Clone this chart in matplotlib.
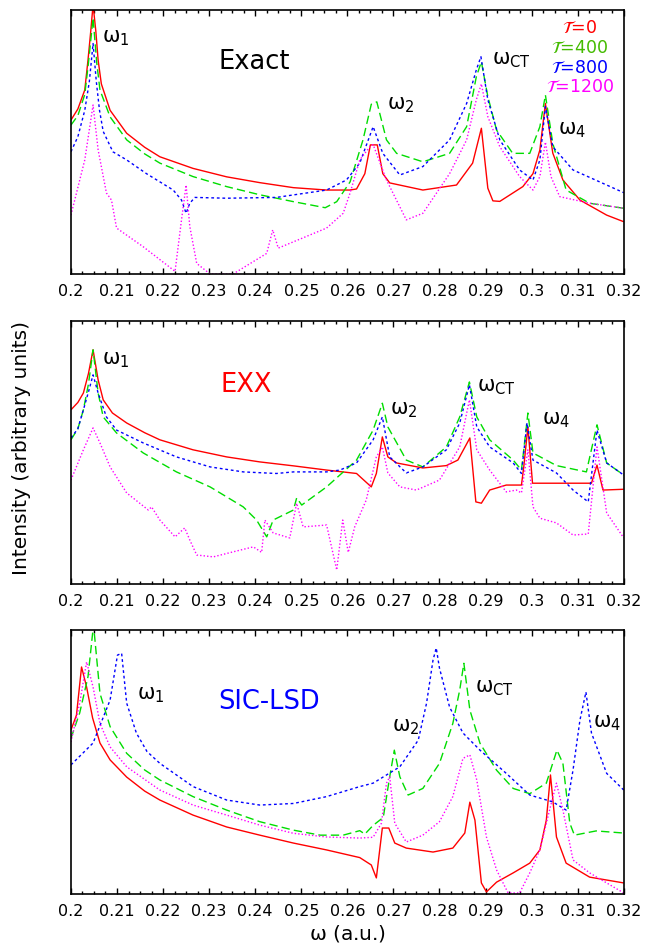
import matplotlib.pyplot as plt
from matplotlib.ticker import MultipleLocator

plt.rcParams['font.family'] = ['DejaVu Sans']
plt.rcParams['mathtext.fontset'] = 'dejavusans'

# ---------------- Exact ----------------
ex_red_x = [0.2, 0.2015, 0.203, 0.2037, 0.2043, 0.2048, 0.2054, 0.2059, 0.2066, 0.2085, 0.2121, 0.2160,
            0.2193, 0.2265, 0.2338, 0.241, 0.2483, 0.2555,
            0.2605, 0.262, 0.2638, 0.2650, 0.2665, 0.2677, 0.2692, 0.2764, 0.2837, 0.2872, 0.2891,
            0.2905, 0.2916, 0.2931, 0.2981, 0.3003, 0.3018, 0.3030, 0.3046, 0.3068, 0.3105, 0.3163, 0.32]
ex_red_y = [0.583, 0.625, 0.697, 0.81, 0.92, 1.02, 0.92, 0.81, 0.72, 0.62, 0.533, 0.48,
            0.444, 0.40, 0.368, 0.346, 0.327, 0.318,
            0.318, 0.322, 0.38, 0.489, 0.489, 0.38, 0.345, 0.318, 0.337, 0.42, 0.552,
            0.325, 0.277, 0.275, 0.331, 0.38, 0.47, 0.646, 0.458, 0.356, 0.28, 0.223, 0.198]

ex_grn_x = [0.2, 0.2015, 0.203, 0.2038, 0.2048, 0.2056, 0.2063, 0.2085, 0.2121, 0.2160, 0.2193, 0.2265,
            0.2338, 0.241, 0.2483, 0.2552,
            0.2577, 0.2606, 0.2634, 0.2652, 0.2664, 0.2685, 0.2707, 0.2764, 0.2822, 0.2859, 0.2880,
            0.2891, 0.2905, 0.2924, 0.2959, 0.2996, 0.3018, 0.3030, 0.3046, 0.3075, 0.3126, 0.32]
ex_grn_y = [0.564, 0.60, 0.68, 0.80, 0.97, 0.80, 0.697, 0.595, 0.508, 0.455, 0.42, 0.369,
            0.331, 0.30, 0.274, 0.251,
            0.274, 0.349, 0.508, 0.643, 0.652, 0.508, 0.457, 0.425, 0.457, 0.558, 0.747,
            0.804, 0.672, 0.545, 0.457, 0.457, 0.558, 0.678, 0.495, 0.318, 0.268, 0.249]

ex_blu_x = [0.2, 0.2015, 0.203, 0.2040, 0.2048, 0.2055, 0.2062, 0.2070, 0.2091, 0.2121, 0.2164, 0.2222,
            0.2240, 0.2250, 0.2258,
            0.2269, 0.2338, 0.2446, 0.2555, 0.2598, 0.2627, 0.2656, 0.2677, 0.2714, 0.2764, 0.2822,
            0.2859, 0.2880, 0.2890, 0.2905, 0.2931, 0.2974, 0.3003, 0.3018, 0.3030, 0.3046, 0.3090,
            0.3163, 0.32]
ex_blu_y = [0.463, 0.52, 0.62, 0.73, 0.873, 0.73, 0.62, 0.54, 0.463, 0.432, 0.38, 0.318,
            0.28, 0.23, 0.268,
            0.29, 0.287, 0.29, 0.318, 0.356, 0.42, 0.558, 0.457, 0.375, 0.407, 0.508,
            0.646, 0.773, 0.823, 0.66, 0.508, 0.394, 0.356, 0.432, 0.634, 0.482, 0.394,
            0.337, 0.308]

ex_mag_x = [0.2, 0.203, 0.2048, 0.2059, 0.2077, 0.2088, 0.2099, 0.2157, 0.2226, 0.2240, 0.2250, 0.2258,
            0.2273, 0.2302, 0.2352, 0.2425, 0.2438, 0.2450, 0.2555, 0.2591, 0.2606, 0.2627, 0.2649,
            0.2656, 0.2685, 0.2728, 0.2764, 0.2822, 0.2859, 0.2880, 0.2891, 0.2905, 0.2931, 0.2974,
            0.3003, 0.3018, 0.3030, 0.3042, 0.3061, 0.3126, 0.32]
ex_mag_y = [0.223, 0.432, 0.64, 0.47, 0.307, 0.28, 0.174, 0.103, 0.01, 0.205, 0.337, 0.18,
            0.04, 0.0, 0.0, 0.078, 0.167, 0.098, 0.174, 0.23, 0.307, 0.432, 0.482,
            0.49, 0.356, 0.205, 0.23, 0.38, 0.508, 0.66, 0.72, 0.596, 0.482, 0.369,
            0.318, 0.369, 0.50, 0.369, 0.293, 0.268, 0.249]

# ---------------- EXX ----------------
xx_red_x = [0.2, 0.2015, 0.2027, 0.2038, 0.2048, 0.2059, 0.2070, 0.2090, 0.2121, 0.2160, 0.2193, 0.2265,
            0.2338, 0.241, 0.2483, 0.2555,
            0.262, 0.2652, 0.2663, 0.2676, 0.2688, 0.2707, 0.2764, 0.2815, 0.2840, 0.2866, 0.2879,
            0.2891, 0.2909, 0.2945, 0.2978, 0.2983, 0.2992, 0.3002, 0.3054, 0.3130, 0.3142, 0.3155, 0.32]
xx_red_y = [0.662, 0.69, 0.726, 0.80, 0.89, 0.776, 0.70, 0.65, 0.612, 0.575, 0.548, 0.51,
            0.483, 0.464, 0.449, 0.433,
            0.42, 0.369, 0.42, 0.559, 0.483, 0.46, 0.441, 0.45, 0.471, 0.555, 0.312,
            0.307, 0.357, 0.376, 0.376, 0.445, 0.597, 0.383, 0.383, 0.383, 0.452, 0.357, 0.36]

xx_grn_x = [0.2, 0.2015, 0.2027, 0.2038, 0.2048, 0.2059, 0.2070, 0.2099, 0.2157, 0.2229, 0.2302, 0.2374,
            0.2403, 0.2425,
            0.2439, 0.2483, 0.2490, 0.2501, 0.2555, 0.262, 0.2656, 0.2676, 0.2688, 0.2728, 0.2764,
            0.2815, 0.2844, 0.2865, 0.2881, 0.2909, 0.2960, 0.2978, 0.2992, 0.3003, 0.3054, 0.3119,
            0.3142, 0.3163, 0.32]
xx_grn_y = [0.548, 0.59, 0.662, 0.76, 0.89, 0.726, 0.635, 0.574, 0.498, 0.426, 0.369, 0.293,
            0.243, 0.179,
            0.243, 0.281, 0.327, 0.30, 0.369, 0.471, 0.585, 0.687, 0.597, 0.471, 0.445,
            0.521, 0.635, 0.768, 0.635, 0.548, 0.471, 0.433, 0.65, 0.498, 0.45, 0.426,
            0.605, 0.46, 0.414]

xx_blu_x = [0.2, 0.2015, 0.2027, 0.2038, 0.2048, 0.2059, 0.2077, 0.2099, 0.2157, 0.2229, 0.2302, 0.2374,
            0.2446, 0.2483,
            0.2555, 0.2584, 0.262, 0.2656, 0.2676, 0.2692, 0.2728, 0.2764, 0.2815, 0.2844, 0.2865,
            0.2881, 0.2909, 0.2960, 0.2978, 0.2990, 0.3003, 0.3054, 0.3090, 0.3123, 0.3142, 0.3163, 0.32]
xx_blu_y = [0.555, 0.59, 0.662, 0.73, 0.795, 0.726, 0.635, 0.585, 0.536, 0.483, 0.445, 0.426,
            0.42, 0.426,
            0.426, 0.433, 0.46, 0.548, 0.635, 0.483, 0.422, 0.445, 0.51, 0.612, 0.757,
            0.597, 0.521, 0.46, 0.42, 0.612, 0.471, 0.422, 0.357, 0.312, 0.585, 0.46, 0.414]

xx_mag_x = [0.2, 0.2027, 0.2048, 0.2063, 0.2085, 0.2121, 0.2168, 0.2175, 0.2193, 0.2226, 0.2247, 0.2258,
            0.2273, 0.2309, 0.2352, 0.2396, 0.2414, 0.2421, 0.2439, 0.2475, 0.2490, 0.2504, 0.2555,
            0.2577, 0.2590, 0.2602, 0.2616, 0.2641, 0.2663, 0.2676, 0.2688, 0.2714, 0.2750, 0.2800,
            0.2844, 0.2865, 0.2881, 0.2909, 0.2945, 0.2967, 0.2978, 0.2992, 0.3003, 0.3018, 0.3054,
            0.3090, 0.3123, 0.3142, 0.3163, 0.32]
xx_mag_y = [0.395, 0.51, 0.593, 0.536, 0.445, 0.346, 0.281, 0.293, 0.243, 0.179, 0.213, 0.167,
            0.11, 0.103, 0.122, 0.141, 0.12, 0.243, 0.194, 0.175, 0.307, 0.217, 0.224,
            0.053, 0.243, 0.12, 0.217, 0.319, 0.483, 0.521, 0.422, 0.369, 0.357, 0.395,
            0.521, 0.70, 0.51, 0.433, 0.35, 0.357, 0.346, 0.51, 0.293, 0.25, 0.232,
            0.186, 0.19, 0.521, 0.27, 0.175]

# ---------------- SIC-LSD ----------------
sl_red_x = [0.2, 0.2012, 0.2023, 0.2034, 0.2047, 0.2063, 0.2085, 0.2121, 0.2160, 0.2193, 0.2265, 0.2338,
            0.241, 0.2483, 0.2555, 0.2627, 0.2652, 0.2663, 0.2676, 0.2690, 0.2703, 0.2728, 0.2786, 0.2829,
            0.2855, 0.2866, 0.2877, 0.2891, 0.2902, 0.2924, 0.2960, 0.2996, 0.3018, 0.3032, 0.3041,
            0.3054, 0.3075, 0.3126, 0.32]
sl_red_y = [0.621, 0.678, 0.86, 0.784, 0.667, 0.572, 0.508, 0.443, 0.39, 0.356, 0.299, 0.254,
            0.223, 0.193, 0.167, 0.138, 0.11, 0.061, 0.25, 0.25, 0.193, 0.174, 0.159, 0.174,
            0.231, 0.348, 0.28, 0.042, 0.008, 0.045, 0.08, 0.117, 0.167, 0.28, 0.451,
            0.216, 0.117, 0.064, 0.042]

sl_grn_x = [0.2, 0.2019, 0.2037, 0.2049, 0.2063, 0.2085, 0.2121, 0.2160, 0.2193, 0.2265, 0.2338, 0.241,
            0.2483, 0.2541, 0.2591, 0.2627, 0.2638, 0.2656, 0.2678, 0.2692, 0.2702, 0.2714, 0.2732,
            0.2764, 0.2800, 0.2829, 0.2844, 0.2853, 0.2866, 0.2888, 0.2924, 0.2960, 0.2996, 0.3032,
            0.3055, 0.3068, 0.3083, 0.3093, 0.3140, 0.32]
sl_grn_y = [0.59, 0.686, 0.823, 1.02, 0.76, 0.634, 0.533, 0.47, 0.432, 0.369, 0.318, 0.274,
            0.242, 0.223, 0.223, 0.24, 0.227, 0.26, 0.29, 0.444, 0.545, 0.444, 0.375,
            0.40, 0.495, 0.646, 0.773, 0.874, 0.697, 0.571, 0.469, 0.40, 0.38, 0.42,
            0.545, 0.495, 0.268, 0.223, 0.239, 0.231]

sl_blu_x = [0.2, 0.2048, 0.2085, 0.2101, 0.2110, 0.2121, 0.2142, 0.2165, 0.2193, 0.2265, 0.2338, 0.241,
            0.2483, 0.2555, 0.2627, 0.2656, 0.2714, 0.2754, 0.2772, 0.2786, 0.2793, 0.2800, 0.2822,
            0.2851, 0.2888, 0.2945, 0.2996, 0.3046, 0.3075, 0.3090, 0.3105, 0.3118, 0.3130, 0.3163, 0.32]
sl_blu_y = [0.489, 0.572, 0.735, 0.905, 0.912, 0.723, 0.61, 0.54, 0.495, 0.407, 0.356, 0.337,
            0.343, 0.369, 0.407, 0.42, 0.482, 0.583, 0.723, 0.886, 0.932, 0.856, 0.708,
            0.61, 0.545, 0.457, 0.375, 0.349, 0.318, 0.47, 0.659, 0.765, 0.61, 0.457, 0.394]

sl_mag_x = [0.2, 0.2019, 0.2034, 0.2048, 0.2063, 0.2085, 0.2121, 0.2193, 0.2265, 0.2338, 0.241, 0.2483,
            0.2555, 0.2627, 0.2656, 0.2674, 0.2685, 0.2692, 0.2703, 0.2728, 0.2764, 0.2800, 0.2829,
            0.2851, 0.2866, 0.2881, 0.2902, 0.2924, 0.2949, 0.2974, 0.2996, 0.3018, 0.3039, 0.3054,
            0.3068, 0.3090, 0.3126, 0.3163, 0.32]
sl_mag_y = [0.576, 0.723, 0.879, 0.784, 0.646, 0.557, 0.482, 0.394, 0.337, 0.299, 0.261, 0.23,
            0.216, 0.212, 0.215, 0.268, 0.42, 0.444, 0.268, 0.197, 0.223, 0.274, 0.369,
            0.514, 0.527, 0.432, 0.216, 0.091, 0.004, 0.004, 0.08, 0.167, 0.318, 0.42,
            0.318, 0.129, 0.08, 0.042, 0.004]

legend_labels = [r'$\mathcal{T}$=0', r'$\mathcal{T}$=400', r'$\mathcal{T}$=800', r'$\mathcal{T}$=1200']

panels = [
    ('Exact', 'black', (ex_red_x, ex_red_y), (ex_grn_x, ex_grn_y), (ex_blu_x, ex_blu_y), (ex_mag_x, ex_mag_y)),
    ('EXX', 'red', (xx_red_x, xx_red_y), (xx_grn_x, xx_grn_y), (xx_blu_x, xx_blu_y), (xx_mag_x, xx_mag_y)),
    ('SIC-LSD', 'blue', (sl_red_x, sl_red_y), (sl_grn_x, sl_grn_y), (sl_blu_x, sl_blu_y), (sl_mag_x, sl_mag_y)),
]

# label positions (data coords) for each panel: w1, w2, wCT, w4, title
label_pos = [
    [(0.2067, 0.894), (0.2686, 0.64), (0.2914, 0.81), (0.3057, 0.545), (0.2399, 0.803)],
    [(0.2067, 0.852), (0.2692, 0.662), (0.2881, 0.749), (0.3022, 0.624), (0.2380, 0.757)],
    [(0.2143, 0.754), (0.2697, 0.633), (0.2877, 0.78), (0.3133, 0.648), (0.2430, 0.727)],
]
omega_names = [r'$\mathregular{\omega_{1}}$', r'$\mathregular{\omega_{2}}$',
               r'$\mathregular{\omega_{CT}}$', r'$\mathregular{\omega_{4}}$']

colors = ['#ff0000', '#00dd00', '#0000ff', '#ff00ff']
styles = [(0, ()), (0, (6, 3)), (0, (2, 2)), (0, (1, 1.5))]

fig = plt.figure(figsize=(6.45, 9.52), dpi=100)
bottoms = [0.7122, 0.3866, 0.0609]
heights = [0.2773, 0.2763, 0.2773]

for i, (title, tcol, r, g, b, m) in enumerate(panels):
    ax = fig.add_axes([0.110, bottoms[i], 0.857, heights[i]])
    for (xs, ys), c, ls in zip([r, g, b, m], colors, styles):
        ax.plot(xs, ys, color=c, linestyle=ls, lw=1.0)
    ax.set_xlim(0.2, 0.32)
    ax.set_ylim(0, 1)
    ax.xaxis.set_minor_locator(MultipleLocator(0.0025))
    ax.set_xticks([0.2 + 0.01 * k for k in range(13)])
    ax.set_xticklabels(['0.2', '0.21', '0.22', '0.23', '0.24', '0.25', '0.26',
                        '0.27', '0.28', '0.29', '0.3', '0.31', '0.32'])
    ax.set_yticks([])
    ax.tick_params(axis='x', which='both', direction='in', top=True, bottom=True, labelsize=11.5, pad=7)
    ax.tick_params(axis='x', which='major', length=4.5, width=1)
    ax.tick_params(axis='x', which='minor', length=2.3, width=1)
    for s in ax.spines.values():
        s.set_linewidth(1.2)
    pos = label_pos[i]
    for (px, py), name in zip(pos[:4], omega_names):
        ax.text(px, py, name, fontsize=15, ha='left', va='center')
    ax.text(pos[4][0], pos[4][1], title, color=tcol, fontsize=18.5, ha='center', va='center')
    if i == 0:
        leg_cols = ['#ff0000', '#44bb00', '#0000ff', '#ff00ff']
        for k, (lab, lc) in enumerate(zip(legend_labels, leg_cols)):
            ax.text(0.3105, 0.932 - 0.075 * k, lab, color=lc, fontsize=12.5, ha='center', va='center')
    if i == 2:
        ax.set_xlabel(r'$\mathregular{\omega}$ (a.u.)', fontsize=14.5, labelpad=3)

fig.text(0.033, 0.529, 'Intensity (arbitrary units)', rotation=90, fontsize=14.5, ha='center', va='center')

plt.savefig('out.png', dpi=100)
